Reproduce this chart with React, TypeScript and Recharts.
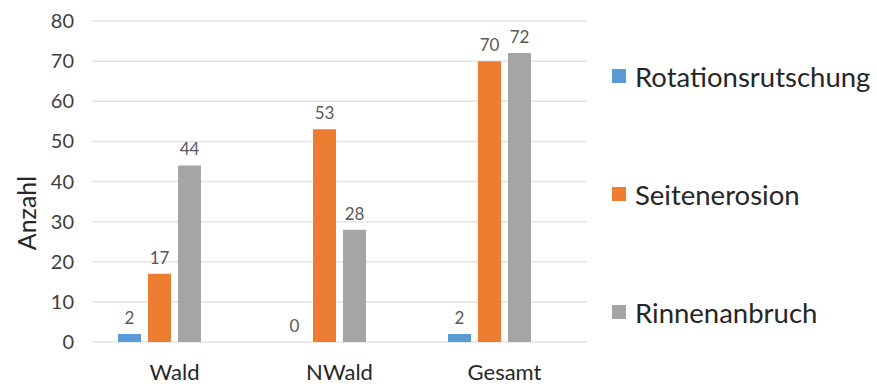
import React from 'react';
import { BarChart, Bar, XAxis, YAxis, CartesianGrid, LabelList, Legend } from 'recharts';

const categories = ['Wald', 'NWald', 'Gesamt'];
const rotationsrutschung = [2, 0, 2];
const seitenerosion = [17, 53, 70];
const rinnenanbruch = [44, 28, 72];
const yTicks = [0, 10, 20, 30, 40, 50, 60, 70, 80];

const series = [
  { key: 'rotationsrutschung', name: 'Rotationsrutschung', color: '#5B9BD5' },
  { key: 'seitenerosion', name: 'Seitenerosion', color: '#ED7D31' },
  { key: 'rinnenanbruch', name: 'Rinnenanbruch', color: '#A5A5A5' },
];

const data = categories.map((c, i) => ({
  name: c,
  rotationsrutschung: rotationsrutschung[i],
  seitenerosion: seitenerosion[i],
  rinnenanbruch: rinnenanbruch[i],
}));

const FONT = 'Lato, "Open Sans", sans-serif';

// legend stacked on the right with wide spacing between entries
const SideLegend = () => (
  <div style={{ fontFamily: FONT }}>
    {series.map((s, i) => (
      <div
        key={s.key}
        style={{
          position: 'absolute',
          left: 0,
          top: i * 118,
          height: 30,
          display: 'flex',
          alignItems: 'center',
          fontSize: 27.5,
          color: '#262626',
          whiteSpace: 'nowrap',
        }}
      >
        <span style={{ width: 14, height: 14, background: s.color, marginRight: 9, display: 'inline-block' }} />
        {s.name}
      </div>
    ))}
  </div>
);

// value above each bar; zero values still get their number
const ValueLabel = (props: any) => {
  const { x, y, width, height, value } = props;
  if (value === undefined || value === null) return null;
  const top = Math.min(y, y + height);
  return (
    <text
      x={x + width / 2}
      y={top - 10}
      textAnchor="middle"
      style={{ fontFamily: FONT, fontSize: 17, fill: '#595959' }}
    >
      {value}
    </text>
  );
};

const AxisTitle = () => (
  <text
    x={36}
    y={213}
    transform="rotate(-90 36 213)"
    textAnchor="middle"
    style={{ fontFamily: FONT, fontSize: 25, fill: '#262626' }}
  >
    Anzahl
  </text>
);

export default function App() {
  return (
    <div style={{ position: 'absolute', left: 0, top: 0, width: 877, height: 387, background: '#fff' }}>
      <BarChart
        width={877}
        height={387}
        data={data}
        margin={{ top: 21, right: 290, bottom: 0, left: 0 }}
        barSize={23}
        barGap={7}
      >
        <CartesianGrid vertical={false} stroke="#E4E4E4" strokeWidth={1.5} />
        <XAxis
          dataKey="name"
          axisLine={false}
          tickLine={false}
          height={45}
          tickMargin={16}
          tick={{ fontFamily: FONT, fontSize: 22, fill: '#262626' }}
        />
        <YAxis
          domain={[0, 80]}
          ticks={yTicks}
          axisLine={false}
          tickLine={false}
          width={92}
          tickMargin={12}
          tick={{ fontFamily: FONT, fontSize: 20, fill: '#404040' }}
          label={<AxisTitle />}
        />
        <Legend
          verticalAlign="top"
          align="right"
          content={<SideLegend />}
          wrapperStyle={{ position: 'absolute', left: 612, top: 61, width: 265 }}
        />
        {series.map((s) => (
          <Bar
            key={s.key}
            dataKey={s.key}
            name={s.name}
            fill={s.color}
            minPointSize={(v: number) => (v === 0 ? 0.01 : 0)}
            isAnimationActive={false}
          >
            <LabelList dataKey={s.key} content={<ValueLabel />} />
          </Bar>
        ))}
        {/* empty fourth slot keeps each group left of the category center */}
        <Bar dataKey="empty" legendType="none" fill="none" isAnimationActive={false} />
      </BarChart>
    </div>
  );
}
